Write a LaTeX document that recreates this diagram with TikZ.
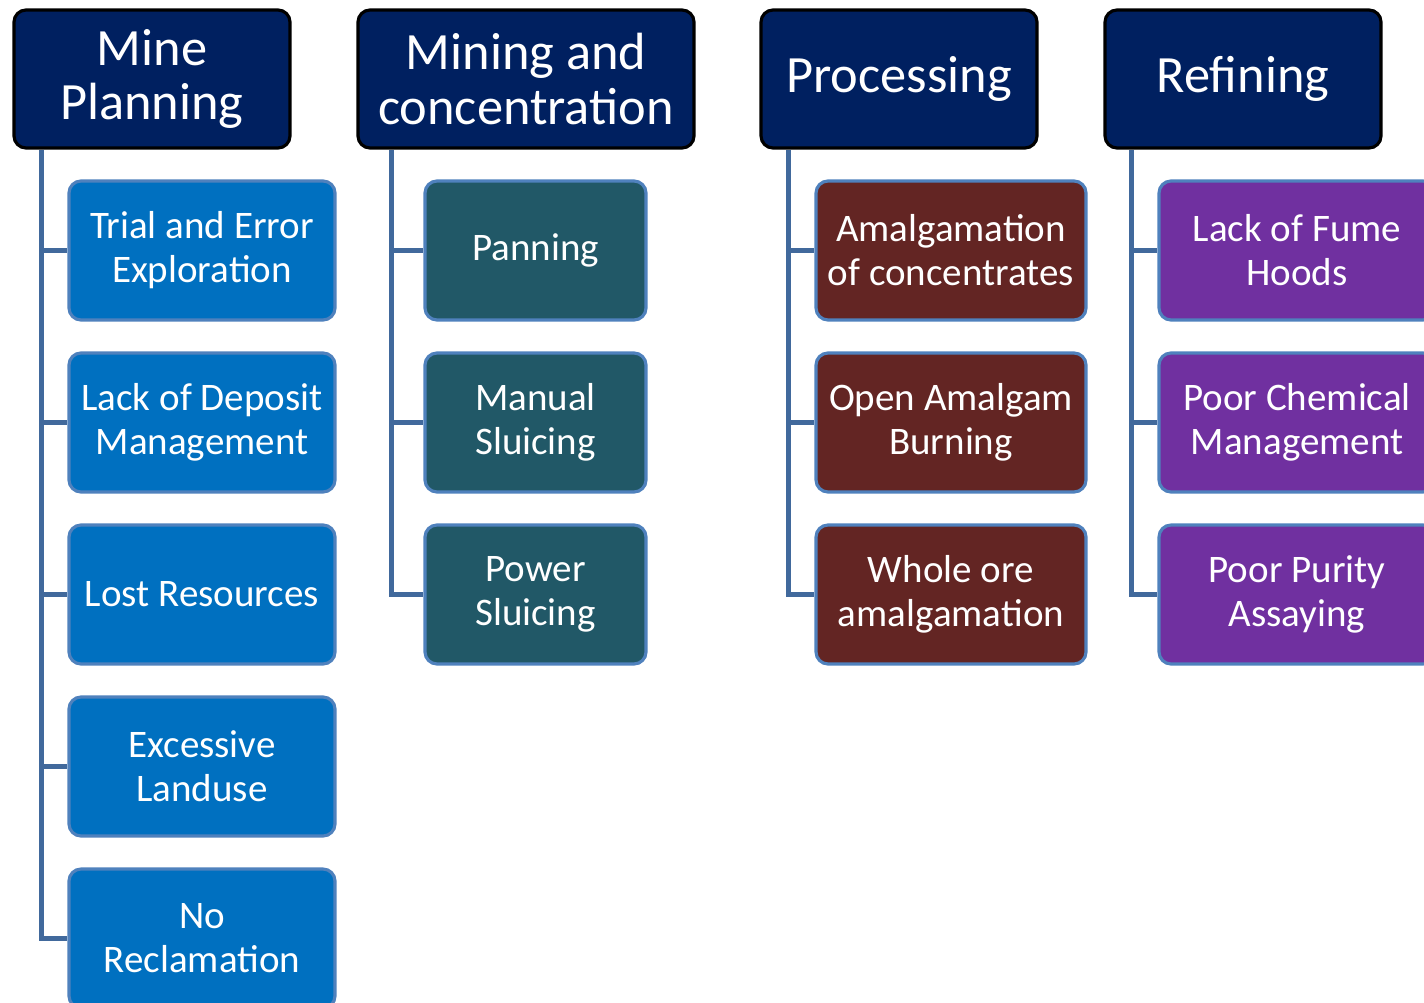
\documentclass[tikz,border=0pt]{standalone}
\usepackage{fontspec}
\setmainfont{Carlito}

\definecolor{navy}{HTML}{002060}
\definecolor{stageblue}{HTML}{0070C0}
\definecolor{stageteal}{HTML}{215867}
\definecolor{stagered}{HTML}{632523}
\definecolor{stagepurple}{HTML}{7030A0}
\definecolor{edgeblue}{HTML}{4F81BD}
\definecolor{linkblue}{HTML}{41699C}

\tikzset{
	head/.style = {draw = black, line width = 0.9pt, fill = navy, rounded corners = 0.12cm,
		minimum height = 1.38cm, text = white, align = center, inner sep = 0pt,
		font = \fontsize{14.9}{15.6}\selectfont},
	item/.style = {draw = edgeblue, line width = 0.9pt, rounded corners = 0.12cm,
		minimum height = 1.39cm, text = white, align = center, inner sep = 0pt,
		font = \fontsize{11.1}{12.5}\selectfont},
	link/.style = {draw = linkblue, line width = 1.2pt}
}

\begin{document}
\begin{tikzpicture}
		\useasboundingbox (0,0) rectangle (14.24,-10.02);
		
		\node [head, minimum width = 2.76cm] (plan) at (1.52,-0.79) {Mine\\Planning};
		\node [head, minimum width = 3.36cm] (mine) at (5.26,-0.79) {Mining and\\concentration};
		\node [head, minimum width = 2.76cm] (proc) at (8.99,-0.79) {Processing};
		\node [head, minimum width = 2.76cm] (refi) at (12.43,-0.79) {Refining};
		
		\begin{scope} [every node/.append style = {item, minimum width = 2.66cm, fill = stageblue}]
		\node (plan1) at (2.02,-2.505) {Trial and Error\\Exploration};
		\node (plan2) at (2.02,-4.225) {Lack of Deposit\\Management};
		\node (plan3) at (2.02,-5.945) {Lost Resources};
		\node (plan4) at (2.02,-7.665) {Excessive\\Landuse};
		\node (plan5) at (2.02,-9.385) {No\\Reclamation};
		\end{scope}
		
		\begin{scope} [every node/.append style = {item, minimum width = 2.21cm, fill = stageteal}]
		\node (mine1) at (5.355,-2.505) {Panning};
		\node (mine2) at (5.355,-4.225) {Manual\\Sluicing};
		\node (mine3) at (5.355,-5.945) {Power\\Sluicing};
		\end{scope}
		
		\begin{scope} [every node/.append style = {item, minimum width = 2.70cm, fill = stagered}]
		\node (proc1) at (9.51,-2.505) {Amalgamation\\of concentrates};
		\node (proc2) at (9.51,-4.225) {Open Amalgam\\Burning};
		\node (proc3) at (9.51,-5.945) {Whole ore\\amalgamation};
		\end{scope}
		
		\begin{scope} [every node/.append style = {item, minimum width = 2.76cm, fill = stagepurple}]
		\node (refi1) at (12.97,-2.505) {Lack of Fume\\Hoods};
		\node (refi2) at (12.97,-4.225) {Poor Chemical\\Management};
		\node (refi3) at (12.97,-5.945) {Poor Purity\\Assaying};
		\end{scope}
		
		\draw [link] ([xshift = 0.29cm]plan.south west) |- (plan1.west);
		\draw [link] ([xshift = 0.29cm]plan.south west) |- (plan2.west);
		\draw [link] ([xshift = 0.29cm]plan.south west) |- (plan3.west);
		\draw [link] ([xshift = 0.29cm]plan.south west) |- (plan4.west);
		\draw [link] ([xshift = 0.29cm]plan.south west) |- (plan5.west);
		
		\draw [link] ([xshift = 0.35cm]mine.south west) |- (mine1.west);
		\draw [link] ([xshift = 0.35cm]mine.south west) |- (mine2.west);
		\draw [link] ([xshift = 0.35cm]mine.south west) |- (mine3.west);
		
		\draw [link] ([xshift = 0.29cm]proc.south west) |- (proc1.west);
		\draw [link] ([xshift = 0.29cm]proc.south west) |- (proc2.west);
		\draw [link] ([xshift = 0.29cm]proc.south west) |- (proc3.west);
		
		\draw [link] ([xshift = 0.28cm]refi.south west) |- (refi1.west);
		\draw [link] ([xshift = 0.28cm]refi.south west) |- (refi2.west);
		\draw [link] ([xshift = 0.28cm]refi.south west) |- (refi3.west);
		
		\end{tikzpicture}
\end{document}
